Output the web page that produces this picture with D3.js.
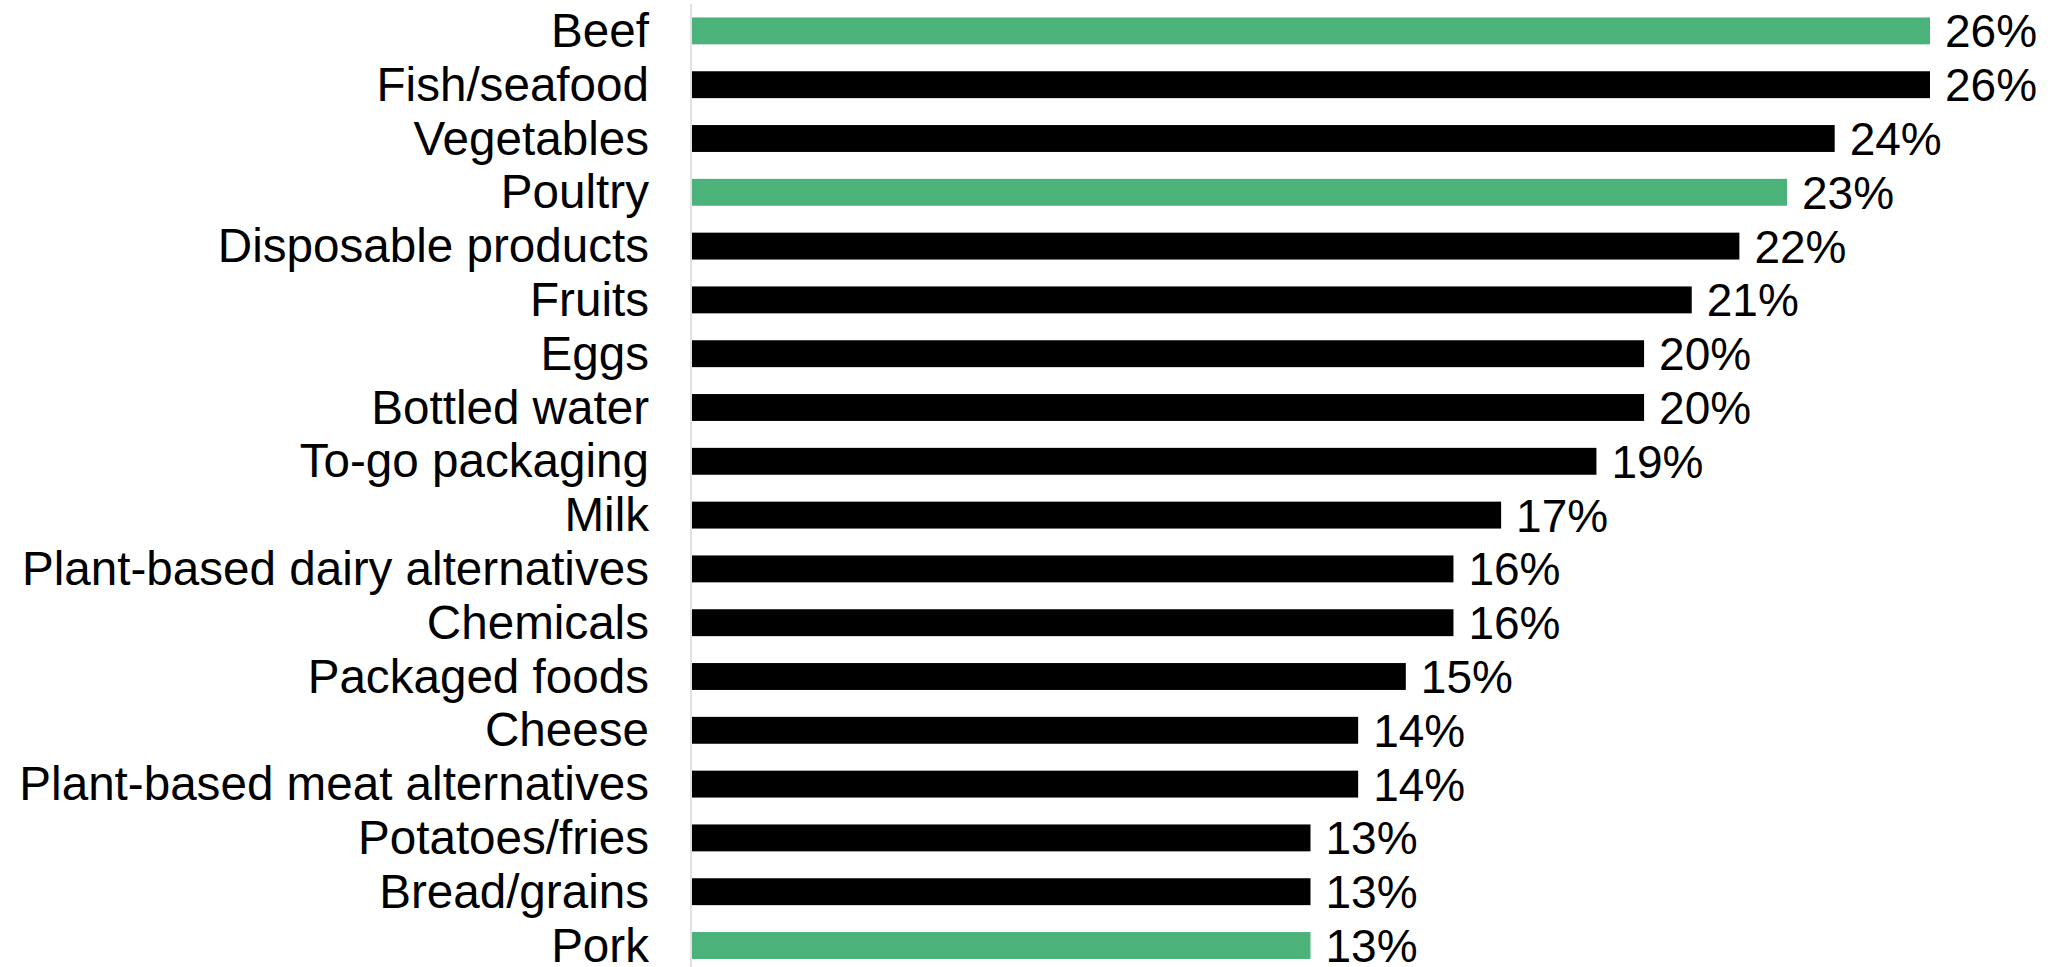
<!DOCTYPE html>
<html>
<head>
<meta charset="utf-8">
<script src="https://cdn.jsdelivr.net/npm/d3@7"></script>
<style>
  html, body { margin: 0; padding: 0; background: #fff; }
  svg { display: block; }
</style>
</head>
<body>
<svg id="chart" width="2054" height="967"></svg>
<script>
const categories = ["Beef", "Fish/seafood", "Vegetables", "Poultry", "Disposable products", "Fruits", "Eggs", "Bottled water", "To-go packaging", "Milk", "Plant-based dairy alternatives", "Chemicals", "Packaged foods", "Cheese", "Plant-based meat alternatives", "Potatoes/fries", "Bread/grains", "Pork"];
const values = [26, 26, 24, 23, 22, 21, 20, 20, 19, 17, 16, 16, 15, 14, 14, 13, 13, 13];
const highlighted = ["Beef", "Poultry", "Pork"];

const data = categories.map((c, i) => ({ cat: c, val: values[i] }));

const svg = d3.select("#chart");
const x0 = 691;
const x = d3.scaleLinear().domain([0, 26]).range([x0, 1930]);
const y = d3.scaleBand().domain(categories).range([4, 972.4]).paddingInner(0.5).paddingOuter(0.25);

const catFont = 47.6, valFont = 46;

// axis line
svg.append("line")
  .attr("x1", x0).attr("x2", x0)
  .attr("y1", 4).attr("y2", 967)
  .attr("stroke", "#d9d9d9").attr("stroke-width", 1.5);

svg.selectAll("rect.bar").data(data).enter().append("rect")
  .attr("class", "bar")
  .attr("x", x(0) + 1)
  .attr("y", d => y(d.cat))
  .attr("width", d => x(d.val) - x(0) - 1)
  .attr("height", y.bandwidth())
  .attr("fill", d => highlighted.includes(d.cat) ? "#4bb37a" : "#000000");

svg.selectAll("text.cat").data(data).enter().append("text")
  .attr("class", "cat")
  .attr("x", 649)
  .attr("y", d => y(d.cat) + y.bandwidth() / 2 + catFont * 0.716 / 2 - 1)
  .attr("text-anchor", "end")
  .attr("font-family", "Liberation Sans, Arial, sans-serif")
  .attr("font-size", catFont)
  .attr("fill", "#000")
  .text(d => d.cat);

svg.selectAll("text.val").data(data).enter().append("text")
  .attr("class", "val")
  .attr("x", d => x(d.val) + 15)
  .attr("y", d => y(d.cat) + y.bandwidth() / 2 + valFont * 0.716 / 2)
  .attr("font-family", "Liberation Sans, Arial, sans-serif")
  .attr("font-size", valFont)
  .attr("fill", "#000")
  .text(d => d.val + "%");
</script>
</body>
</html>
